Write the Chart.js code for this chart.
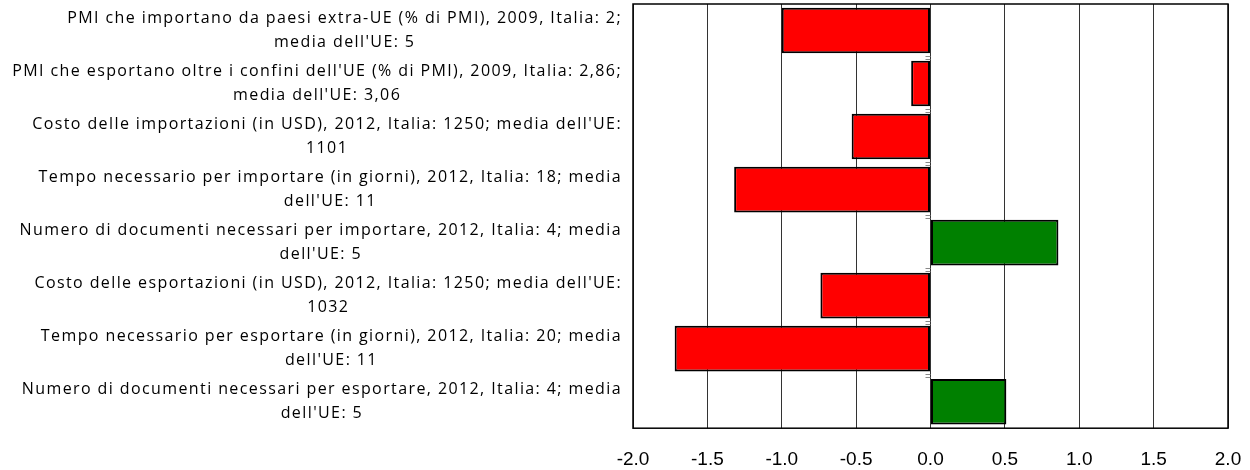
<!DOCTYPE html>
<html lang="it">
  <head>
    <meta charset="UTF-8" />
    <title>PMI - commercio extra-UE</title>
    <script src="https://cdn.jsdelivr.net/npm/chart.js"></script>
    <style>
      html, body { margin: 0; padding: 0; background: #fff; overflow: hidden; }
      .chart-card { width: 1250px; height: 470px; }
    </style>
  </head>
  <body>
    <div class="chart-card">
      <canvas id="barChart"></canvas>
    </div>

    <script>
      // categories (each one a two-line label, top to bottom)
      const categories = [
        ["PMI che importano da paesi extra-UE (% di PMI), 2009, Italia: 2;", "media dell'UE: 5"],
        ["PMI che esportano oltre i confini dell'UE (% di PMI), 2009, Italia: 2,86;", "media dell'UE: 3,06"],
        ["Costo delle importazioni (in USD), 2012, Italia: 1250; media dell'UE:", "1101"],
        ["Tempo necessario per importare (in giorni), 2012, Italia: 18; media", "dell'UE: 11"],
        ["Numero di documenti necessari per importare, 2012, Italia: 4; media", "dell'UE: 5"],
        ["Costo delle esportazioni (in USD), 2012, Italia: 1250; media dell'UE:", "1032"],
        ["Tempo necessario per esportare (in giorni), 2012, Italia: 20; media", "dell'UE: 11"],
        ["Numero di documenti necessari per esportare, 2012, Italia: 4; media", "dell'UE: 5"]
      ];
      const values = [-1.0, -0.13, -0.53, -1.32, 0.86, -0.74, -1.72, 0.51];
      const xTicks = [-2.0, -1.5, -1.0, -0.5, 0.0, 0.5, 1.0, 1.5, 2.0];

      const labelFont = '16px "Open Sans"';

      // draws the wrapped labels: block right-aligned, lines centred in it
      const labelPlugin = {
        id: 'labelPlugin',
        afterDraw(chart) {
          const ctx = chart.ctx;
          const xScale = chart.scales.x;
          const yScale = chart.scales.y;
          const a = chart.chartArea;
          const right = a.left - 11;
          ctx.save();
          ctx.font = labelFont;
          ctx.letterSpacing = '1.4px';
          ctx.fillStyle = '#000';
          ctx.textAlign = 'center';
          ctx.textBaseline = 'middle';
          categories.forEach((lines, i) => {
            const w = Math.max(...lines.map(l => ctx.measureText(l).width));
            const cx = right - w / 2;
            const cy = yScale.getPixelForTick(i);
            const lh = 24;
            lines.forEach((l, j) => {
              ctx.fillText(l, cx, cy + (j - (lines.length - 1) / 2) * lh);
            });
          });
          // little tick marks on the zero line between categories
          const x0 = xScale.getPixelForValue(0);
          ctx.strokeStyle = '#888';
          ctx.lineWidth = 1;
          for (let i = 0; i < categories.length - 1; i++) {
            const yb = (yScale.getPixelForTick(i) + yScale.getPixelForTick(i + 1)) / 2;
            [-1.5, 1.5].forEach(d => {
              ctx.beginPath();
              ctx.moveTo(x0 - 5, Math.round(yb + d) + 0.5);
              ctx.lineTo(x0, Math.round(yb + d) + 0.5);
              ctx.stroke();
            });
          }
          // frame round the plot
          ctx.strokeStyle = '#000';
          ctx.lineWidth = 1.5;
          ctx.strokeRect(a.left, a.top, a.right - a.left, a.bottom - a.top);
          ctx.restore();
        }
      };

      const ctx = document.getElementById('barChart').getContext('2d');
      new Chart(ctx, {
        type: 'bar',
        data: {
          labels: categories,
          datasets: [{
            data: values,
            backgroundColor: values.map(v => v < 0 ? '#ff0000' : '#008000'),
            borderColor: '#000',
            borderWidth: 2,
            borderSkipped: false,
            barPercentage: 0.86,
            categoryPercentage: 1.0
          }]
        },
        options: {
          indexAxis: 'y',
          responsive: true,
          maintainAspectRatio: false,
          animation: false,
          layout: { padding: { top: 4, right: 0, bottom: -21, left: 0 } },
          plugins: {
            legend: { display: false },
            tooltip: { enabled: false }
          },
          scales: {
            x: {
              min: -2,
              max: 2,
              afterBuildTicks(scale) {
                scale.ticks = xTicks.map(v => ({ value: v }));
              },
              afterFit(scale) { scale.paddingRight = 22; },
              ticks: {
                callback: v => v.toFixed(1),
                color: '#000',
                font: { family: '"Liberation Sans"', size: 19 },
                padding: 20,
                maxRotation: 0
              },
              grid: { color: '#333', lineWidth: 1, tickLength: 0 },
              border: { display: false }
            },
            y: {
              afterFit(scale) { scale.width = 633; },
              ticks: { display: false },
              grid: { display: false },
              border: { display: false }
            }
          }
        },
        plugins: [labelPlugin]
      });
    </script>
  </body>
</html>
